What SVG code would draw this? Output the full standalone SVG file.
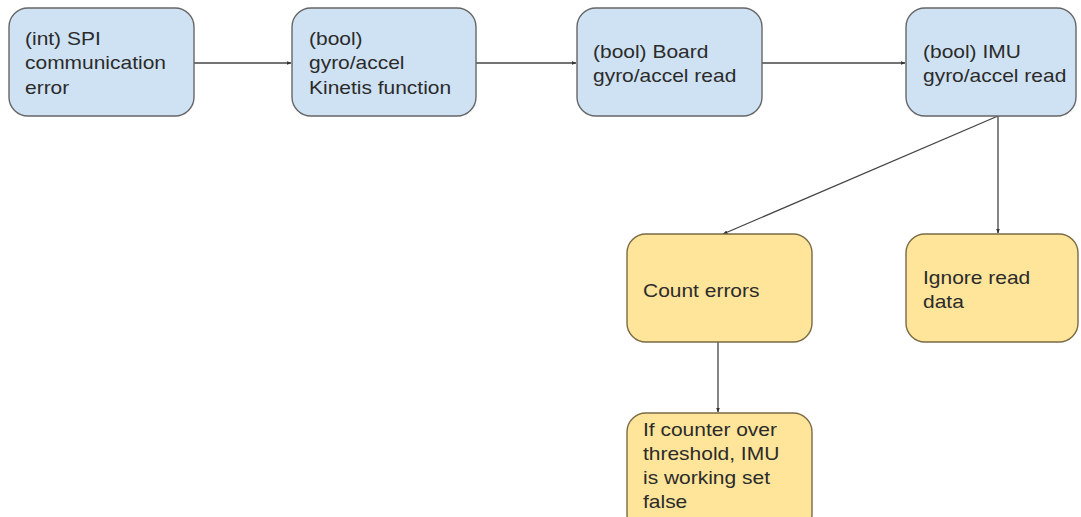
<svg xmlns="http://www.w3.org/2000/svg" width="1081" height="517" viewBox="0 0 1081 517">
  <defs>
    <marker id="arrow" viewBox="0 0 10 10" refX="9" refY="5" markerWidth="5" markerHeight="5" orient="auto" markerUnits="userSpaceOnUse">
      <path d="M0,1 L10,5 L0,9 Z" fill="#333"/>
    </marker>
    <style>
      .blue { fill: #cfe2f3; stroke: #666; stroke-width: 1.4; }
      .yellow { fill: #ffe599; stroke: #7a6a45; stroke-width: 1.4; }
      .label { font-family: "Liberation Sans", Arial, sans-serif; font-size: 18px; fill: #2b2b2b; }
      .edge { fill: none; stroke: #444; stroke-width: 1.3; marker-end: url(#arrow); }
    </style>
  </defs>
  <rect width="1081" height="517" fill="#ffffff"/>

  <!-- connectors -->
  <g id="connectors">
    <line class="edge" x1="194" y1="63" x2="291" y2="63"/>
    <line class="edge" x1="476" y1="63" x2="576" y2="63"/>
    <line class="edge" x1="762" y1="63" x2="905" y2="63"/>
    <line class="edge" x1="998" y1="116" x2="998" y2="233"/>
    <line class="edge" x1="998" y1="116" x2="723" y2="234"/>
    <line class="edge" x1="718" y1="342" x2="718" y2="412"/>
  </g>

  <g id="spi-error">
    <rect class="blue" x="9" y="8" width="185" height="108" rx="19"/>
    <text class="label" transform="translate(25,45) scale(1.165,1)"><tspan x="0" y="0">(int) SPI</tspan><tspan x="0" y="24.5">communication</tspan><tspan x="0" y="49">error</tspan></text>
  </g>

  <g id="kinetis-function">
    <rect class="blue" x="292" y="8" width="184" height="108" rx="19"/>
    <text class="label" transform="translate(309,45) scale(1.165,1)"><tspan x="0" y="0">(bool)</tspan><tspan x="0" y="24.5">gyro/accel</tspan><tspan x="0" y="49">Kinetis function</tspan></text>
  </g>

  <g id="board-read">
    <rect class="blue" x="577" y="8" width="185" height="108" rx="19"/>
    <text class="label" transform="translate(593,58) scale(1.165,1)"><tspan x="0" y="0">(bool) Board</tspan><tspan x="0" y="24.5">gyro/accel read</tspan></text>
  </g>

  <g id="imu-read">
    <rect class="blue" x="906" y="8" width="170" height="108" rx="19"/>
    <text class="label" transform="translate(923,58) scale(1.165,1)"><tspan x="0" y="0">(bool) IMU</tspan><tspan x="0" y="24.5">gyro/accel read</tspan></text>
  </g>

  <g id="count-errors">
    <rect class="yellow" x="627" y="234" width="185" height="108" rx="19"/>
    <text class="label" transform="translate(643,297) scale(1.165,1)"><tspan x="0" y="0">Count errors</tspan></text>
  </g>

  <g id="ignore-data">
    <rect class="yellow" x="906" y="234" width="172" height="108" rx="19"/>
    <text class="label" transform="translate(923,284) scale(1.165,1)"><tspan x="0" y="0">Ignore read</tspan><tspan x="0" y="24.5">data</tspan></text>
  </g>

  <g id="threshold-check">
    <rect class="yellow" x="627" y="413" width="185" height="120" rx="19"/>
    <text class="label" transform="translate(643,436) scale(1.165,1)"><tspan x="0" y="0">If counter over</tspan><tspan x="0" y="24">threshold, IMU</tspan><tspan x="0" y="48">is working set</tspan><tspan x="0" y="72">false</tspan></text>
  </g>
</svg>
